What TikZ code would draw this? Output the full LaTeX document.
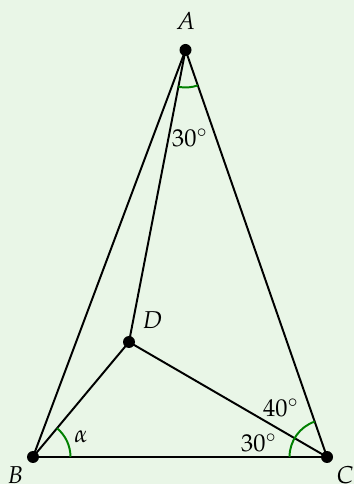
\documentclass[tikz,border=0pt]{standalone}
\usepackage{mathpazo}
\usepackage{xcolor}
\usetikzlibrary{angles,quotes}
\definecolor{bgcol}{RGB}{233,246,231}
\definecolor{arccol}{RGB}{0,128,0}
\tikzset{
    pt/.style={circle, fill=black, inner sep=0pt, minimum size=12*0.0144cm},
    edge/.style={line width=0.8pt, black},
    arcmark/.style={draw=arccol, line width=0.8pt, angle radius=0.54cm},
}

\begin{document}
\begin{tikzpicture}[x=0.0144cm, y=0.0144cm]
    % background
    \fill[bgcol] (0,0) rectangle (354,484);
    \useasboundingbox (0,0) rectangle (354,484);
    % points
    \node[pt, label={[label distance=2pt]above:$A$}] (A) at (185.5,434) {};
    \node[pt, label={[label distance=-2pt]below left:$B$}] (B) at (33,27) {};
    \node[pt, label={[label distance=-2pt]below right:$C$}] (C) at (327,27) {};
    \node[pt, label={[label distance=0pt]above right:$D$}] (D) at (129,142) {};
    % sides
    \draw[edge] (A.center) -- (B.center) -- (C.center) -- cycle;
    \draw[edge] (A.center) -- (D.center);
    \draw[edge] (B.center) -- (D.center) -- (C.center);
    % angles
    \coordinate (a) at (A.center);
    \coordinate (b) at (B.center);
    \coordinate (c) at (C.center);
    \coordinate (d) at (D.center);
    \pic[arcmark] {angle = d--a--c};
    \pic[arcmark] {angle = c--b--d};
    \pic[arcmark] {angle = a--c--b};
    % angle labels
    \node (lA) at (190,346) {$30^\circ$};
    \node (lB) at (81,47) {$\alpha$};
    \node (lC1) at (281,76) {$40^\circ$};
    \node (lC2) at (259,41) {$30^\circ$};
\end{tikzpicture}
\end{document}
